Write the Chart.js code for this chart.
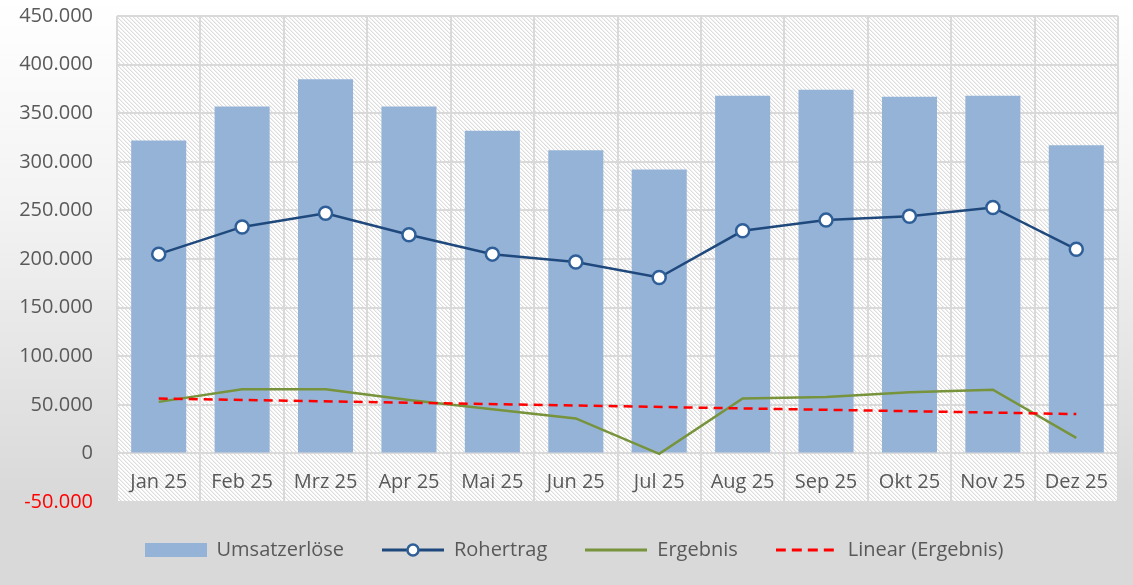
<!DOCTYPE html>
<html lang="de">
<head>
<meta charset="utf-8">
<script src="https://cdn.jsdelivr.net/npm/chart.js@4.4.1/dist/chart.umd.min.js"></script>
<style>
  html, body { margin: 0; padding: 0; }
  body {
    width: 1133px;
    height: 585px;
    overflow: hidden;
    background: linear-gradient(to bottom, #ffffff 0%, #f3f3f3 35%, #d9d9d9 85%, #d9d9d9 100%);
  }
</style>
</head>
<body>
<canvas id="chart" width="1133" height="585"></canvas>
<script>
const months = ["Jan 25", "Feb 25", "Mrz 25", "Apr 25", "Mai 25", "Jun 25", "Jul 25", "Aug 25", "Sep 25", "Okt 25", "Nov 25", "Dez 25"];
const umsatzerloese = [322000, 357000, 385000, 357000, 332000, 312000, 292000, 368000, 374000, 367000, 368000, 317000];
const rohertrag = [205000, 233000, 247000, 225000, 205000, 197000, 181000, 229000, 240000, 244000, 253000, 210000];
const ergebnis = [53000, 66000, 66000, 55000, 45500, 36000, -500, 56500, 58000, 63000, 65500, 16000];
const trendErgebnis = [56500, null, null, null, null, null, null, null, null, null, null, 40500];

const TEXT = "#595959";
const FONT = "'Open Sans', 'Noto Sans', sans-serif";

function fmtDe(value) {
  const sign = value < 0 ? "-" : "";
  return sign + String(Math.abs(value)).replace(/\B(?=(\d{3})+(?!\d))/g, ".");
}

function makeCanvas(w, h) {
  const c = document.createElement("canvas");
  c.width = w;
  c.height = h;
  return c;
}

// hatched plot background
function hatchPattern(ctx) {
  const tile = makeCanvas(4, 4);
  const t = tile.getContext("2d");
  t.fillStyle = "#ffffff";
  t.fillRect(0, 0, 4, 4);
  for (let i = 0; i < 4; i++) {
    t.fillStyle = "#dcdcdc";
    t.fillRect(i, i, 1, 1);
    t.fillStyle = "#f1f1f1";
    t.fillRect((i + 1) % 4, i, 1, 1);
  }
  return ctx.createPattern(tile, "repeat");
}

// legend symbols
const SYM_W = 62;
const SYM_H = 16;

function symBar() {
  const c = makeCanvas(SYM_W, SYM_H);
  const g = c.getContext("2d");
  g.fillStyle = "#95b3d7";
  g.fillRect(0, 1, SYM_W, 14);
  return c;
}

function symMarkerLine() {
  const c = makeCanvas(SYM_W, SYM_H);
  const g = c.getContext("2d");
  g.strokeStyle = "#1f497d";
  g.lineWidth = 3;
  g.beginPath();
  g.moveTo(0, 8);
  g.lineTo(SYM_W, 8);
  g.stroke();
  g.beginPath();
  g.arc(SYM_W / 2, 8, 5.5, 0, Math.PI * 2);
  g.fillStyle = "#ffffff";
  g.fill();
  g.strokeStyle = "#2f5f98";
  g.lineWidth = 2.5;
  g.stroke();
  return c;
}

function symLine(color, dash) {
  const c = makeCanvas(SYM_W, SYM_H);
  const g = c.getContext("2d");
  g.strokeStyle = color;
  g.lineWidth = 3;
  g.setLineDash(dash);
  g.beginPath();
  g.moveTo(0, 8);
  g.lineTo(SYM_W, 8);
  g.stroke();
  return c;
}

const legendSymbols = [symBar(), symMarkerLine(), symLine("#77933c", []), symLine("#ff0000", [10, 6])];

const plotBackground = {
  id: "plotBackground",
  beforeDraw(chart) {
    const { ctx, chartArea } = chart;
    ctx.save();
    ctx.fillStyle = hatchPattern(ctx);
    ctx.fillRect(chartArea.left, chartArea.top, chartArea.right - chartArea.left, chartArea.bottom - chartArea.top);
    ctx.restore();
  },
};

const legendBox = {
  id: "legendBox",
  beforeInit(chart) {
    const origFit = chart.legend.fit;
    chart.legend.fit = function () {
      origFit.call(this);
      this.height = 83;
    };
  },
  afterLayout(chart) {
    // Excel centres the legend a little right of the canvas middle
    chart.legend.left = 30;
  },
};

new Chart(document.getElementById("chart"), {
  type: "bar",
  data: {
    labels: months,
    datasets: [
      {
        label: "Umsatzerlöse",
        data: umsatzerloese,
        backgroundColor: "#95b3d7",
        barPercentage: 0.66,
        categoryPercentage: 1,
        order: 4,
      },
      {
        type: "line",
        label: "Rohertrag",
        data: rohertrag,
        borderColor: "#1f497d",
        borderWidth: 2.5,
        pointStyle: "circle",
        pointRadius: 6.5,
        pointBackgroundColor: "#ffffff",
        pointBorderColor: "#2f5f98",
        pointBorderWidth: 2.5,
        tension: 0,
        order: 1,
      },
      {
        type: "line",
        label: "Ergebnis",
        data: ergebnis,
        borderColor: "#77933c",
        borderWidth: 2.5,
        pointRadius: 0,
        tension: 0,
        order: 3,
      },
      {
        type: "line",
        label: "Linear (Ergebnis)",
        data: trendErgebnis,
        borderColor: "#ff0000",
        borderWidth: 2.5,
        borderDash: [9, 6],
        pointRadius: 0,
        spanGaps: true,
        order: 2,
      },
    ],
  },
  options: {
    responsive: false,
    animation: false,
    layout: { padding: { top: 16, right: 15, left: 0, bottom: 0 } },
    scales: {
      x: {
        position: { y: 0 },
        offset: true,
        grid: { color: "#d9d9d9", lineWidth: 2, drawTicks: false, offset: true },
        border: { display: false },
        ticks: { color: TEXT, font: { family: FONT, size: 20 }, padding: 17 },
      },
      y: {
        min: -50000,
        max: 450000,
        grid: { color: "#d9d9d9", lineWidth: 2, drawTicks: false },
        border: { display: false },
        ticks: {
          stepSize: 50000,
          padding: 24,
          font: { family: FONT, size: 20 },
          color: (ctx) => (ctx.tick && ctx.tick.value < 0 ? "#ff0000" : TEXT),
          callback: (value) => fmtDe(value),
        },
        afterFit(scale) {
          scale.width = 117;
          scale.paddingTop = 0;
          scale.paddingBottom = 0;
        },
      },
    },
    plugins: {
      tooltip: { enabled: false },
      legend: {
        position: "bottom",
        labels: {
          usePointStyle: true,
          pointStyleWidth: SYM_W,
          boxHeight: 16,
          padding: 38,
          color: TEXT,
          font: { family: FONT, size: 20 },
          sort: (a, b) => a.datasetIndex - b.datasetIndex,
          generateLabels(chart) {
            const items = Chart.defaults.plugins.legend.labels.generateLabels(chart);
            items.forEach((item) => {
              item.pointStyle = legendSymbols[item.datasetIndex];
            });
            return items;
          },
        },
      },
    },
  },
  plugins: [plotBackground, legendBox],
});
</script>
</body>
</html>
